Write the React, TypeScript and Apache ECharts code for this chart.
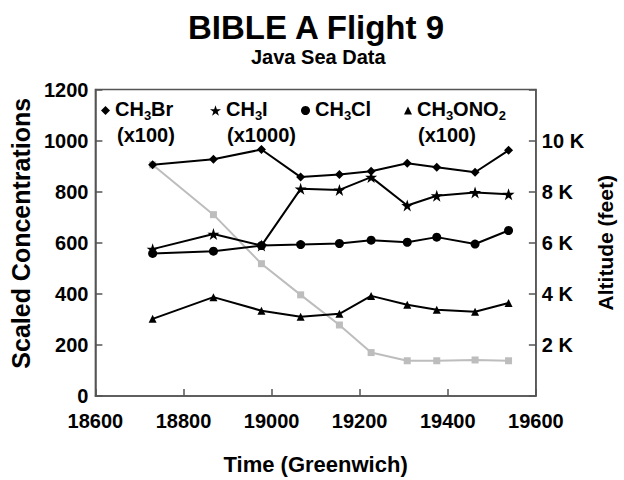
import React, { useEffect, useRef } from "react";
import * as echarts from "echarts";

const times = [18730, 18868, 18977, 19066, 19154, 19226, 19308, 19375, 19462, 19538];
const ch3br = [905, 927, 965, 857, 867, 880, 911, 896, 876, 962];
const ch3i = [575, 634, 589, 811, 807, 857, 746, 784, 797, 790];
const ch3cl = [558, 567, 589, 593, 597, 610, 602, 622, 595, 648];
const ch3ono2 = [302, 387, 334, 310, 322, 392, 357, 338, 330, 364];
const altitude = [9050, 7100, 5180, 3960, 2780, 1700, 1380, 1380, 1410, 1380];

const leftTicks = [0, 200, 400, 600, 800, 1000, 1200];
const rightTickLabels = ["2 K", "4 K", "6 K", "8 K", "10 K"];

const STAR =
  "path://M50,0 L61.8,35.5 L99,35.5 L69,57.5 L80.5,93 L50,71 L19.5,93 L31,57.5 L1,35.5 L38.2,35.5 Z";

const FONT = '"Liberation Sans", Arial, Helvetica, sans-serif';

const pair = (arr: number[]) => times.map((t, i) => [t, arr[i]]);

const richStyle = {
  n: { fontSize: 20, fontWeight: "bold", color: "#000", verticalAlign: "top", fontFamily: FONT },
  s: { fontSize: 13, fontWeight: "bold", color: "#000", verticalAlign: "top", padding: [10, 0, 0, 0], fontFamily: FONT },
};

function legendItem(name: string, icon: string, left: number, size: number, fmt: string) {
  return {
    data: [{ name, icon }],
    left,
    top: 99,
    padding: 0,
    itemWidth: size,
    itemHeight: size,
    selectedMode: false,
    formatter: () => fmt,
    itemStyle: { color: "#000", borderWidth: 0 },
    textStyle: { color: "#000", rich: richStyle },
  };
}

export default function App() {
  const ref = useRef<HTMLDivElement>(null);
  useEffect(() => {
    if (!ref.current) return;
    const chart = echarts.init(ref.current, undefined, { renderer: "svg" });
    const axisLineStyle = { color: "#555", width: 1.5 };
    const labelStyle = { color: "#000", fontSize: 20, fontWeight: "bold" as const, fontFamily: FONT };
    const nameStyle = { color: "#000", fontWeight: "bold" as const, fontFamily: FONT };
    chart.setOption({
      animation: false,
      backgroundColor: "#fff",
      textStyle: { fontFamily: FONT },
      title: [
        {
          text: "BIBLE A Flight 9",
          left: 188,
          top: 11,
          padding: 0,
          textStyle: { fontSize: 33, fontWeight: "bold", color: "#000", fontFamily: FONT },
        },
        {
          text: "Java Sea Data",
          left: 251,
          top: 47,
          padding: 0,
          textStyle: { fontSize: 20, fontWeight: "bold", color: "#000", fontFamily: FONT },
        },
      ],
      legend: [
        legendItem("CH3Br", "diamond", 101, 9, "{n|CH}{s|3}{n|Br}"),
        legendItem("CH3I", STAR, 210, 11, "{n|CH}{s|3}{n|I}"),
        legendItem("CH3Cl", "circle", 301, 9, "{n|CH}{s|3}{n|Cl}"),
        legendItem("CH3ONO2", "triangle", 404, 8, "{n|CH}{s|3}{n|ONO}{s|2}"),
      ],
      graphic: [
        { type: "text", x: 117, y: 135, style: { text: "(x100)", fontSize: 20, fontWeight: "bold", fontFamily: FONT, fill: "#000", verticalAlign: "middle" } },
        { type: "text", x: 227, y: 135, style: { text: "(x1000)", fontSize: 20, fontWeight: "bold", fontFamily: FONT, fill: "#000", verticalAlign: "middle" } },
        { type: "text", x: 418, y: 135, style: { text: "(x100)", fontSize: 20, fontWeight: "bold", fontFamily: FONT, fill: "#000", verticalAlign: "middle" } },
      ],
      grid: {
        left: 89,
        right: 77,
        top: 89.5,
        bottom: 76.5,
        show: true,
        borderColor: "#555",
        borderWidth: 1.5,
        backgroundColor: "transparent",
      },
      xAxis: {
        type: "value",
        min: 18600,
        max: 19600,
        interval: 200,
        axisLine: { show: true, lineStyle: axisLineStyle },
        axisTick: { show: true, inside: true, length: 7, lineStyle: axisLineStyle },
        axisLabel: { ...labelStyle, margin: 15, formatter: (v: number) => String(v), showMinLabel: true, showMaxLabel: true },
        splitLine: { show: false },
        name: "Time (Greenwich)",
        nameLocation: "middle",
        nameGap: 57,
        nameTextStyle: { ...nameStyle, fontSize: 22 },
      },
      yAxis: [
        {
          type: "value",
          min: leftTicks[0],
          max: leftTicks[leftTicks.length - 1],
          interval: 200,
          axisLine: { show: true, lineStyle: axisLineStyle },
          axisTick: { show: true, inside: true, length: 7, lineStyle: axisLineStyle },
          axisLabel: { ...labelStyle, margin: 7, formatter: (v: number) => String(v), showMinLabel: true, showMaxLabel: true },
          splitLine: { show: false },
          name: "Scaled Concentrations",
          nameLocation: "middle",
          nameGap: 55,
          nameTextStyle: { ...nameStyle, fontSize: 25, padding: [0, 0, 0, 19] },
        },
        {
          type: "value",
          position: "right",
          min: 0,
          max: 12000,
          interval: 2000,
          axisLine: { show: true, lineStyle: axisLineStyle },
          axisTick: { show: true, inside: true, length: 7, lineStyle: axisLineStyle },
          axisLabel: {
            ...labelStyle,
            margin: 6,
            formatter: (v: number) => {
              const i = v / 2000 - 1;
              return i >= 0 && i < rightTickLabels.length ? rightTickLabels[i] : "";
            },
          },
          splitLine: { show: false },
          name: "Altitude (feet)",
          nameLocation: "middle",
          nameGap: 49,
          nameTextStyle: { ...nameStyle, fontSize: 21 },
        },
      ],
      series: [
        {
          name: "Altitude",
          type: "line",
          yAxisIndex: 1,
          data: pair(altitude),
          symbol: "rect",
          symbolSize: 7,
          z: 1,
          lineStyle: { color: "#bdbdbd", width: 2 },
          itemStyle: { color: "#bdbdbd" },
        },
        {
          name: "CH3ONO2",
          type: "line",
          data: pair(ch3ono2),
          symbol: "triangle",
          symbolSize: 8,
          z: 3,
          lineStyle: { color: "#000", width: 2 },
          itemStyle: { color: "#000" },
        },
        {
          name: "CH3Cl",
          type: "line",
          data: pair(ch3cl),
          symbol: "circle",
          symbolSize: 9,
          z: 3,
          lineStyle: { color: "#000", width: 2 },
          itemStyle: { color: "#000" },
        },
        {
          name: "CH3I",
          type: "line",
          data: pair(ch3i),
          symbol: STAR,
          symbolSize: 12,
          z: 3,
          lineStyle: { color: "#000", width: 2 },
          itemStyle: { color: "#000" },
        },
        {
          name: "CH3Br",
          type: "line",
          data: pair(ch3br),
          symbol: "diamond",
          symbolSize: 9,
          z: 3,
          lineStyle: { color: "#000", width: 2 },
          itemStyle: { color: "#000" },
        },
      ],
    });
    return () => chart.dispose();
  }, []);
  return (
    <div
      ref={ref}
      style={{ position: "fixed", left: 0, top: 0, width: 624, height: 480, background: "#fff" }}
    />
  );
}
